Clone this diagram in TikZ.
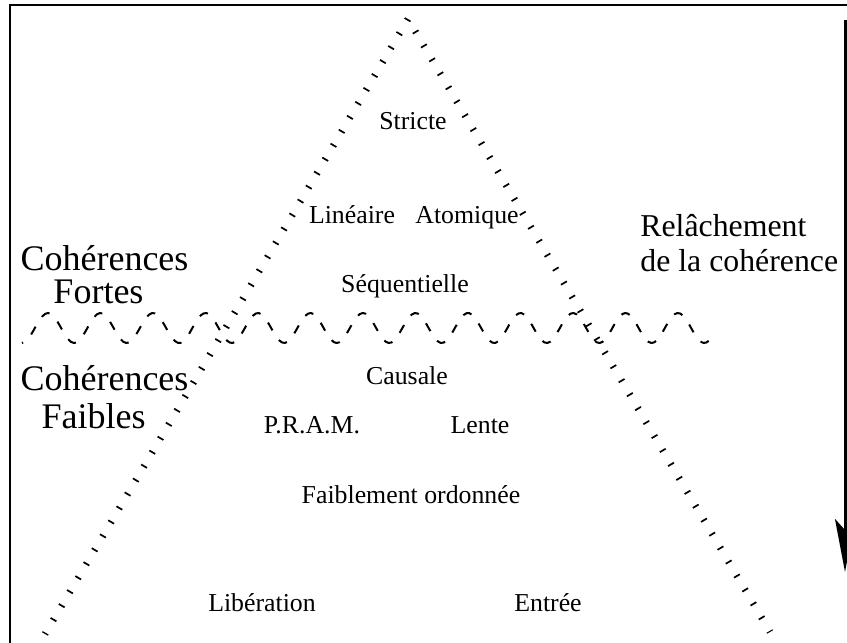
\documentclass[tikz,border=0pt]{standalone}
\usepackage{fontspec}
\setmainfont{Liberation Serif}
\usetikzlibrary{arrows.meta}
\begin{document}
\begin{tikzpicture}[x=0.5pt,y=-0.5pt,
  lbl/.style={font=\fontsize{12.9}{15}\selectfont, inner sep=0pt, anchor=base},
  bigtxt/.style={font=\fontsize{18}{21}\selectfont, inner sep=0pt, anchor=base},
  reltxt/.style={font=\fontsize{15.9}{19}\selectfont, inner sep=0pt, anchor=base west},
  tickline/.style={line width=3.4pt, dash pattern=on 0.85pt off 7.25pt},
  frame/.style={line width=1pt},
  wave/.style={line width=1pt, dash pattern=on 4.5pt off 5.83pt, dash phase=3.9pt},
  bigarrow/.style={line width=1.5pt, -{Stealth[length=26.5pt,width=10pt,inset=5.5pt]}}]
\clip (0,0) rectangle (847,643);

% frame edges
\coordinate (fc) at (10,5);
\coordinate (fr) at (860,5);
\coordinate (fb) at (10,660);
\draw[frame] (fr) -- (fc) -- (fb);

% ticked triangle
\coordinate (apex) at (408,19);
\coordinate (bl) at (45,634);
\coordinate (br) at (770,632);
\draw[tickline] (apex) -- (bl);
\draw[tickline, dash phase=1pt] (apex) -- (br);

% wavy separator between strong and weak consistency (period 52.5)
\draw[wave] plot[domain=22:712, samples=240] (\x, {328 - 15*cos(6.857143*(\x-48))});

% relaxation arrow
\coordinate (atop) at (845,20);
\coordinate (atip) at (845,572);
\draw[bigarrow] (atop) -- (atip);

% consistency models
\node[lbl] (stricte) at (413,129) {Stricte};
\node[lbl] (lin) at (352,223) {Linéaire};
\node[lbl] (atom) at (467,223) {Atomique};
\node[lbl] (seq) at (405,292) {Séquentielle};
\node[lbl] (caus) at (407,384) {Causale};
\node[lbl] (pram) at (312,433) {P.R.A.M.};
\node[lbl] (lente) at (480,433) {Lente};
\node[lbl] (faib) at (411,503) {Faiblement ordonnée};
\node[lbl] (lib) at (262,611) {Libération};
\node[lbl] (entr) at (548,611) {Entrée};

% side captions
\node[bigtxt] (cf1) at (104.5,270) {Cohérences};
\node[bigtxt] (cf2) at (98.5,303) {Fortes};
\node[bigtxt] (cw1) at (104.5,390) {Cohérences};
\node[bigtxt] (cw2) at (93.5,428) {Faibles};
\node[reltxt] (rel1) at (640,236) {Relâchement};
\node[reltxt] (rel2) at (640,271) {de la cohérence};
\end{tikzpicture}
\end{document}
